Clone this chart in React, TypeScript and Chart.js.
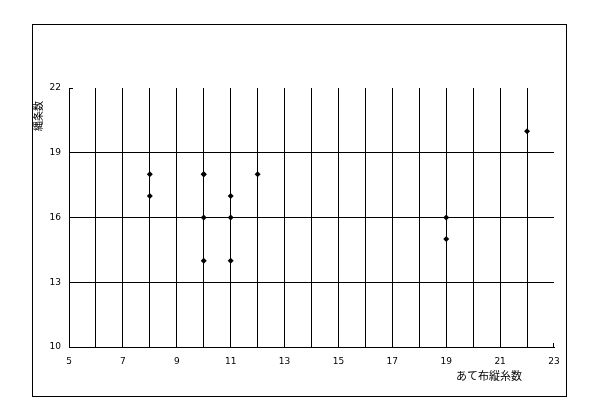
import React, { useEffect, useRef } from "react";
import { Chart, registerables } from "chart.js";

Chart.register(...registerables);

const warpCounts = [8, 8, 10, 10, 10, 10, 11, 11, 11, 12, 19, 19, 22];
const ropeCounts = [18, 17, 18, 18, 16, 14, 17, 16, 14, 18, 16, 15, 20];
const xTitle = "あて布縦糸数";
const yTitle = "縄条数";
const xMin = 5;
const xMax = 23;
const yMin = 10;
const yMax = 22;

const decor = {
  id: "decor",
  afterDraw(chart: any) {
    const ctx = chart.ctx;
    const { left, top, right, bottom } = chart.chartArea;
    ctx.save();
    ctx.strokeStyle = "#000";
    ctx.lineWidth = 1;
    ctx.strokeRect(32.5, 24.5, 534, 372);
    // small inside ticks at ends
    ctx.beginPath();
    ctx.moveTo(left, Math.round(top) + 0.5);
    ctx.lineTo(left + 4, Math.round(top) + 0.5);
    ctx.moveTo(Math.round(right) - 0.5, bottom);
    ctx.lineTo(Math.round(right) - 0.5, bottom - 4);
    ctx.stroke();
    ctx.fillStyle = "#000";
    ctx.font = "11px 'Noto Sans CJK JP'";
    ctx.textAlign = "center";
    ctx.textBaseline = "middle";
    ctx.fillText(xTitle, 489, 376);
    ctx.translate(38, 116);
    ctx.rotate(-Math.PI / 2);
    ctx.font = "10px 'Noto Sans CJK JP'";
    ctx.fillText(yTitle, 0, 0);
    ctx.restore();
  },
};

export default function App() {
  const ref = useRef<HTMLCanvasElement>(null);
  useEffect(() => {
    if (!ref.current) return;
    const data = warpCounts.map((x, i) => ({ x, y: ropeCounts[i] }));
    const chart = new Chart(ref.current, {
      type: "scatter",
      data: {
        datasets: [
          {
            data,
            pointStyle: "rectRot",
            radius: 3,
            backgroundColor: "#000",
            borderColor: "#000",
            borderWidth: 0,
          },
        ],
      },
      options: {
        animation: false,
        responsive: false,
        devicePixelRatio: 1,
        layout: { padding: { left: 0, top: 88, right: 46, bottom: 0 } },
        plugins: { legend: { display: false }, tooltip: { enabled: false } },
        scales: {
          x: {
            type: "linear",
            min: xMin,
            max: xMax,
            afterFit: (s: any) => {
              s.height = 73;
            },
            ticks: {
              stepSize: 1,
              autoSkip: false,
              maxRotation: 0,
              padding: 9,
              color: "#000",
              font: { family: "'DejaVu Sans'", size: 9 },
              callback: (v: any) => ((v - xMin) % 2 === 0 ? String(v) : ""),
            },
            grid: {
              drawTicks: false,
              color: (c: any) => (c.tick && c.tick.value === xMax ? "rgba(0,0,0,0)" : "#000"),
              lineWidth: 1,
            },
            border: { display: true, color: "#000", width: 1 },
          },
          y: {
            type: "linear",
            min: yMin,
            max: yMax,
            afterFit: (s: any) => {
              s.width = 69;
            },
            ticks: {
              stepSize: 3,
              padding: 8,
              color: "#000",
              font: { family: "'DejaVu Sans'", size: 9 },
            },
            grid: {
              drawTicks: false,
              color: (c: any) => (c.tick && c.tick.value === yMax ? "rgba(0,0,0,0)" : "#000"),
              lineWidth: 1,
            },
            border: { display: true, color: "#000", width: 1 },
          },
        },
      },
      plugins: [decor],
    });
    return () => chart.destroy();
  }, []);
  return (
    <div style={{ position: "fixed", left: 0, top: 0, width: 600, height: 420, background: "#fff" }}>
      <canvas ref={ref} width={600} height={420} />
    </div>
  );
}
